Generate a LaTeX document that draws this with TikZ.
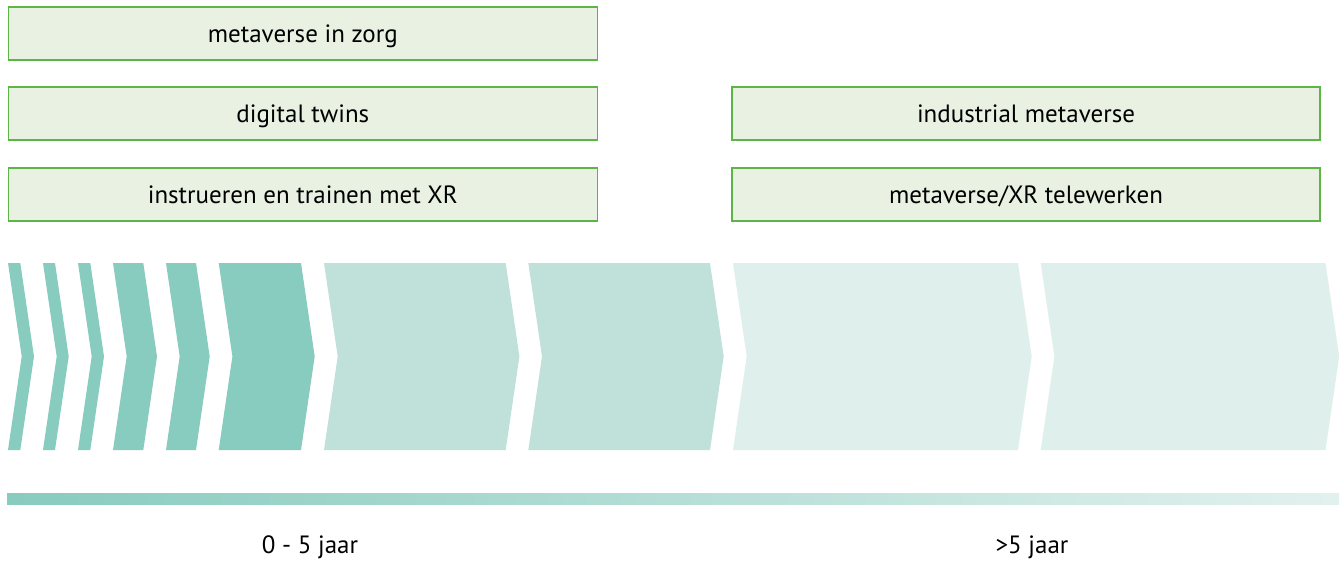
\documentclass[tikz,border=0pt]{standalone}
\usepackage{fontspec}
\setmainfont{PT Sans}
\begin{document}
\begin{tikzpicture}[x=1pt,y=-1pt,
  tag/.style={draw=boxline,fill=boxfill,line width=1.6pt,minimum height=53pt,
    inner sep=0pt,text height=17pt,text depth=0pt,
    font=\fontsize{25}{28}\selectfont,text=black},
  axislabel/.style={font=\fontsize{25}{28}\selectfont,text=black,inner sep=0pt}]
\definecolor{boxline}{HTML}{5DB548}
\definecolor{boxfill}{HTML}{E8F1E2}
\definecolor{tealA}{HTML}{88CBBF}
\definecolor{tealB}{HTML}{BFE1DA}
\definecolor{tealC}{HTML}{DFEFEB}
\definecolor{tealD}{HTML}{E2F1EE}
\useasboundingbox (0,0) rectangle (1343,560);

% chevron arrows: left edge, right edge, colour
\foreach \l/\r/\c in {8/20.3/tealA, 43/55/tealA, 78/90.3/tealA, 113/143.3/tealA,
    166/196/tealA, 218.7/301/tealA, 324/505.7/tealB, 528.3/710/tealB,
    733/1018/tealC, 1040.7/1325.5/tealC}
  \fill[\c] (\l,263) -- (\r,263) -- (\r+13.7,356.5) -- (\r,450) -- (\l,450)
    -- (\l+13.7,356.5) -- cycle;

% topic boxes
\node[tag,minimum width=589pt] (zorg)  at (302.8,33.5)  {metaverse in zorg};
\node[tag,minimum width=589pt] (twins) at (302.8,113.5) {digital twins};
\node[tag,minimum width=589pt] (xr)    at (302.8,194.5) {instrueren en trainen met XR};
\node[tag,minimum width=588pt] (indu)  at (1026,113.5)  {industrial metaverse};
\node[tag,minimum width=588pt] (tele)  at (1026,194.5)  {metaverse/XR telewerken};

% time axis
\shade[left color=tealA,right color=tealD] (7,493) rectangle (1339,504.5);
\node[axislabel] (near) at (310,547) {0 - 5 jaar};
\node[axislabel] (far)  at (1032,547) {>5 jaar};
\end{tikzpicture}
\end{document}
